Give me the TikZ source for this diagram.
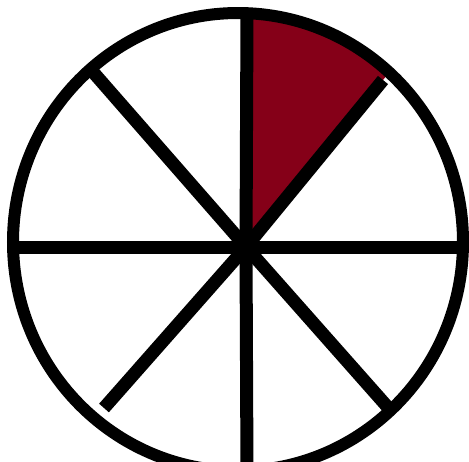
\documentclass[tikz,border=0pt]{standalone}
\definecolor{sector}{RGB}{133,0,24}
\begin{document}
\begin{tikzpicture}[x=1pt,y=-1pt,
  rim/.style={line width=12pt,draw=black},
  spoke/.style={line width=13pt,draw=black,line cap=butt}]
\useasboundingbox (0,0) rectangle (469,461);
\coordinate (C) at (238,242);
\coordinate (O) at (246,247);
\coordinate (T) at (247,13);
\coordinate (B) at (247,475);
\coordinate (L) at (12,247);
\coordinate (R) at (464,247);
\coordinate (UL) at (93,72);
\coordinate (UR) at (383,80);
\coordinate (LL) at (104,408);
\coordinate (LR) at (392,412);
\begin{scope}
  \clip (C) ellipse[x radius=225,y radius=229];
  \fill[sector] (O) -- (247,-20) -- (470,-20) -- (465,-20) -- cycle;
\end{scope}
\draw[spoke] (O) -- (T);
\draw[spoke] (O) -- (B);
\draw[spoke] (O) -- (L);
\draw[spoke] (O) -- (R);
\draw[spoke] (O) -- (UL);
\draw[spoke] (O) -- (UR);
\draw[spoke] (O) -- (LL);
\draw[spoke] (O) -- (LR);
\draw[rim] (C) ellipse[x radius=225,y radius=229];
\end{tikzpicture}
\end{document}
